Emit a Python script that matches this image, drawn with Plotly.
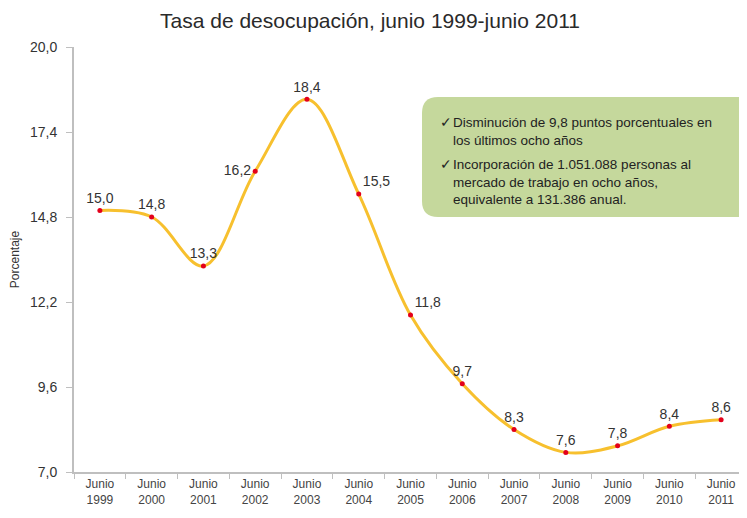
import plotly.graph_objects as go

# datos
anios = ["1999", "2000", "2001", "2002", "2003", "2004", "2005",
         "2006", "2007", "2008", "2009", "2010", "2011"]
tasa = [15.0, 14.8, 13.3, 16.2, 18.4, 15.5, 11.8, 9.7, 8.3, 7.6, 7.8, 8.4, 8.6]
y_ticks = [7.0, 9.6, 12.2, 14.8, 17.4, 20.0]

categorias = ["Junio<br>" + a for a in anios]
etiquetas = [f"{v:.1f}".replace(".", ",") for v in tasa]
pos_texto = ["top center", "top center", "top center", "middle left", "top center",
             "top right", "top right", "top center", "top center", "top center",
             "top center", "top center", "top center"]

# la pagina deja 8px de margen en el body
OFF = 8
W, H = 747 - OFF, 518 - OFF
ML, MR, MT, MB = 74 - OFF, 0, 47 - OFF, 46
PW, PH = W - ML - MR, H - MT - MB


def px_x(x):
    return (x - OFF - ML) / PW


def px_y(y):
    return (H + OFF - MB - y) / PH


def caja_redondeada(x0, y0, x1, y1, r):
    # coordenadas de pantalla -> paper, con esquinas redondeadas
    rx, ry = r / PW, r / PH
    a, b, c, d = px_x(x0), px_y(y1), px_x(x1), px_y(y0)
    return (f"M {a+rx},{b} L {c-rx},{b} Q {c},{b} {c},{b+ry} "
            f"L {c},{d-ry} Q {c},{d} {c-rx},{d} L {a+rx},{d} "
            f"Q {a},{d} {a},{d-ry} L {a},{b+ry} Q {a},{b} {a+rx},{b} Z")


fig = go.Figure()
fig.add_trace(go.Scatter(
    x=categorias, y=tasa, mode="lines+markers+text",
    line=dict(color="#F7C02E", width=3, shape="spline", smoothing=1.0),
    marker=dict(color="#E3001B", size=5),
    text=etiquetas, textposition=pos_texto,
    textfont=dict(family="Liberation Sans, Arial", size=14, color="#333333"),
    cliponaxis=False, hoverinfo="x+y",
))

fig.add_shape(type="path", xref="paper", yref="paper",
              path=caja_redondeada(422, 97, 760, 217, 16),
              fillcolor="#C5D89C", line=dict(width=0), layer="below")

fuente_caja = dict(family="Liberation Sans, Arial", size=13.5, color="#222222")
bloques = [
    (122, "Disminución de 9,8 puntos porcentuales en<br>los últimos ocho años"),
    (164, "Incorporación de 1.051.088 personas al<br>mercado de trabajo en ocho años,<br>"
          "equivalente a 131.386 anual."),
]
for y0, txt in bloques:
    fig.add_annotation(xref="paper", yref="paper", x=px_x(438), y=px_y(y0),
                       text="✓", showarrow=False, xanchor="left", yanchor="middle",
                       font=fuente_caja)
    fig.add_annotation(xref="paper", yref="paper", x=px_x(451), y=px_y(y0 - 9),
                       text=txt, showarrow=False, xanchor="left", yanchor="top",
                       align="left", font=fuente_caja)

fig.update_layout(
    width=W, height=H,
    margin=dict(l=ML, r=MR, t=MT, b=MB),
    paper_bgcolor="white", plot_bgcolor="white",
    showlegend=False,
    title=dict(text="Tasa de desocupación, junio 1999-junio 2011",
               x=(370 - OFF) / W, xanchor="center", y=1 - (21 - OFF) / H, yanchor="middle",
               font=dict(family="Liberation Sans, Arial", size=21, color="#2a2a2a")),
    font=dict(family="Liberation Sans, Arial", color="#333333"),
)
fig.update_xaxes(
    range=[-0.5, len(anios) - 0.5], showgrid=False, zeroline=False,
    showline=True, linecolor="#BFBFBF", linewidth=2,
    ticks="outside", tickcolor="#BFBFBF", ticklen=5, tickson="boundaries",
    tickfont=dict(size=12, color="#444444"),
)
fig.update_yaxes(
    range=[7.0, 20.0], tickvals=y_ticks,
    ticktext=[f"{v:.1f}".replace(".", ",") for v in y_ticks],
    showgrid=False, zeroline=False,
    showline=True, linecolor="#BFBFBF", linewidth=2,
    ticks="outside", tickcolor="#BFBFBF", ticklen=6, ticklabelstandoff=6,
    tickfont=dict(size=14, color="#333333"),
    title=dict(text="Porcentaje", font=dict(size=12, color="#333333"), standoff=12),
)

fig.write_html("out.html")
